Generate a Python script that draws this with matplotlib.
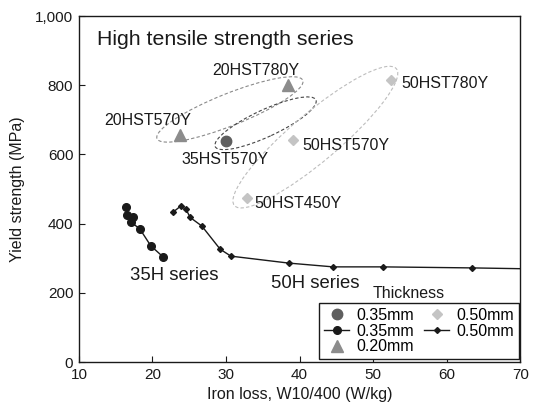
import matplotlib
matplotlib.use('Agg')
import matplotlib.pyplot as plt
import matplotlib.transforms as mtransforms
from matplotlib.patches import Ellipse
from matplotlib.ticker import FuncFormatter

plt.rcParams['font.family'] = ['Liberation Sans', 'DejaVu Sans']

# 35H series (0.35 mm)
h35_loss = [16.36, 16.58, 17.40, 17.08, 18.31, 19.77, 21.49]
h35_yield = [449, 425, 420, 405, 384, 336, 303]

# 50H series (0.50 mm)
h50_loss = [22.85, 23.86, 24.58, 25.12, 26.72, 29.21, 30.67, 38.5, 44.56, 51.28, 63.5, 75.0]
h50_yield = [434, 451, 441, 418, 393, 326, 306, 286, 275, 275, 272, 268]

# High tensile strength grades
hst_names = ['20HST780Y', '20HST570Y', '35HST570Y', '50HST780Y', '50HST570Y', '50HST450Y']
hst_loss = [38.38, 23.8, 29.99, 52.47, 39.06, 32.85]
hst_yield = [801, 656, 640, 815, 642, 475]

fig = plt.figure(figsize=(5.33, 4.08), dpi=100)
ax = fig.add_axes([0.148, 0.1127, 0.828, 0.848])

# series lines
ax.plot(h35_loss, h35_yield, color='#1a1a1a', lw=1, marker='o', ms=5.5, label='0.35mm', zorder=3)
ax.plot(h50_loss, h50_yield, color='#1a1a1a', lw=1, marker='D', ms=3, label='0.50mm', zorder=3)

# HST points
ax.plot(hst_loss[2:3], hst_yield[2:3], ls='none', marker='o', ms=7.5, color='#5f5f5f', label='0.35mm', zorder=4)
ax.plot(hst_loss[0:2], hst_yield[0:2], ls='none', marker='^', ms=8, color='#8c8c8c', label='0.20mm', zorder=4)
ax.plot(hst_loss[3:], hst_yield[3:], ls='none', marker='D', ms=5, color='#c4c4c4', label='0.50mm', zorder=4)

# point labels
label_pos = [(34.1, 844), (19.3, 699), (29.8, 586), (59.75, 805), (46.3, 625), (39.8, 459)]
for name, (lx, ly) in zip(hst_names, label_pos):
    ax.text(lx, ly, name, fontsize=11.5, ha='center', va='center', color='#1a1a1a')

# dashed grouping ellipses (size in inches, centred on data point)
def group_ellipse(cx, cy, w, h, angle, color):
    tr = fig.dpi_scale_trans + mtransforms.ScaledTranslation(cx, cy, ax.transData)
    e = Ellipse((0, 0), w, h, angle=angle, transform=tr, fill=False,
                edgecolor=color, lw=0.8, ls=(0, (3, 2)), zorder=2)
    ax.add_patch(e)

group_ellipse(30.53, 730, 1.57, 0.32, 21.8, '#8a8a8a')
group_ellipse(35.38, 690, 1.11, 0.27, 24.9, '#454545')
group_ellipse(42.15, 650, 2.12, 0.48, 40.2, '#bdbdbd')

ax.text(12.4, 931, 'High tensile strength series', fontsize=15.3, ha='left', va='center', color='#1a1a1a')
ax.text(22.9, 251, '35H series', fontsize=13.3, ha='center', va='center', color='#1a1a1a')
ax.text(42.15, 227, '50H series', fontsize=13.3, ha='center', va='center', color='#1a1a1a')

ax.set_xlim(10, 70)
ax.set_ylim(0, 1000)
ax.set_xticks(range(10, 71, 10))
ax.set_yticks(range(0, 1001, 200))
ax.yaxis.set_major_formatter(FuncFormatter(lambda v, p: f'{int(v):,}'))
ax.tick_params(direction='in', length=4, labelsize=11, colors='#1a1a1a', pad=4)
for s in ax.spines.values():
    s.set_linewidth(1)
    s.set_color('#1a1a1a')

ax.set_xlabel('Iron loss, W10/400 (W/kg)', fontsize=11.5, color='#1a1a1a', labelpad=4)
ax.set_ylabel('Yield strength (MPa)', fontsize=11.5, color='#1a1a1a', labelpad=7)

# legend
handles, labels = ax.get_legend_handles_labels()
order = [2, 0, 3, 4, 1]
leg = ax.legend([handles[i] for i in order], [labels[i] for i in order], ncol=2,
                loc='lower right', bbox_to_anchor=(0.997, 0.008), fontsize=11.5,
                fancybox=False, edgecolor='#1a1a1a', framealpha=1,
                handlelength=1.6, handletextpad=0.45, columnspacing=0.6,
                labelspacing=0.05, borderpad=0.3, borderaxespad=0)
leg.get_frame().set_linewidth(1)
ax.text(0.748, 0.198, 'Thickness', transform=ax.transAxes, fontsize=11.5, ha='center', va='center', color='#1a1a1a')

fig.savefig('out.png', dpi=100)
